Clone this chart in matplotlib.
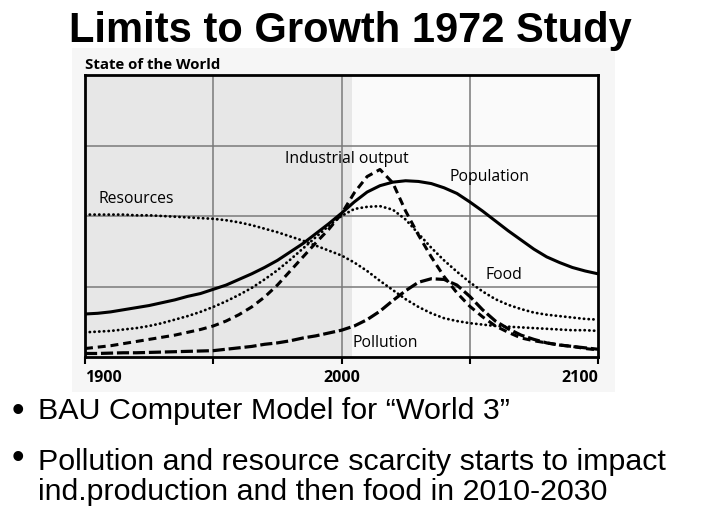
import matplotlib
matplotlib.use('Agg')
import matplotlib.pyplot as plt
from matplotlib.patches import Rectangle

years = [1900, 1905, 1910, 1915, 1920, 1925, 1930, 1935, 1940, 1945,
         1950, 1955, 1960, 1965, 1970, 1975, 1980, 1985, 1990, 1995,
         2000, 2005, 2010, 2015, 2020, 2025, 2030, 2035, 2040, 2045,
         2050, 2055, 2060, 2065, 2070, 2075, 2080, 2085, 2090, 2095, 2100]
population = [0.61, 0.62, 0.64, 0.67, 0.70, 0.73, 0.77, 0.81, 0.86, 0.90,
              0.96, 1.02, 1.10, 1.18, 1.27, 1.37, 1.49, 1.61, 1.75, 1.89,
              2.04, 2.20, 2.34, 2.43, 2.48, 2.50, 2.49, 2.46, 2.40, 2.32,
              2.20, 2.07, 1.93, 1.79, 1.66, 1.53, 1.42, 1.34, 1.27, 1.22, 1.18]
industrial = [0.12, 0.14, 0.16, 0.19, 0.22, 0.25, 0.28, 0.31, 0.35, 0.39,
              0.44, 0.51, 0.60, 0.71, 0.85, 1.02, 1.22, 1.42, 1.62, 1.81,
              2.03, 2.33, 2.56, 2.66, 2.47, 2.07, 1.73, 1.42, 1.14, 0.91,
              0.72, 0.57, 0.44, 0.35, 0.27, 0.23, 0.20, 0.17, 0.15, 0.12, 0.10]
food = [0.35, 0.36, 0.37, 0.39, 0.41, 0.44, 0.48, 0.53, 0.58, 0.64,
        0.71, 0.79, 0.88, 0.98, 1.10, 1.23, 1.38, 1.54, 1.70, 1.86,
        2.00, 2.10, 2.13, 2.14, 2.09, 1.95, 1.75, 1.55, 1.37, 1.21,
        1.06, 0.93, 0.82, 0.74, 0.68, 0.63, 0.60, 0.58, 0.56, 0.54, 0.53]
resources = [2.02, 2.02, 2.02, 2.02, 2.01, 2.01, 2.00, 1.99, 1.98, 1.97,
             1.96, 1.94, 1.91, 1.87, 1.82, 1.77, 1.71, 1.65, 1.58, 1.51,
             1.44, 1.34, 1.22, 1.08, 0.95, 0.82, 0.71, 0.62, 0.55, 0.51,
             0.48, 0.46, 0.44, 0.43, 0.42, 0.41, 0.40, 0.39, 0.38, 0.38, 0.37]
pollution = [0.05, 0.05, 0.055, 0.06, 0.06, 0.065, 0.07, 0.075, 0.08, 0.085,
             0.09, 0.11, 0.13, 0.15, 0.18, 0.20, 0.23, 0.27, 0.30, 0.34,
             0.38, 0.44, 0.53, 0.65, 0.80, 0.94, 1.06, 1.11, 1.10, 1.02,
             0.86, 0.67, 0.51, 0.40, 0.31, 0.25, 0.20, 0.17, 0.15, 0.13, 0.11]

tick_years = [1900, 1950, 2000, 2050, 2100]
tick_labels = ['1900', '', '2000', '', '2100']
shade_end = 2004

title = 'Limits to Growth 1972 Study'
bullets = ['BAU Computer Model for \u201cWorld 3\u201d',
           'Pollution and resource scarcity starts to impact\nind.production and then food in 2010-2030']

W, H = 720, 528
fig = plt.figure(figsize=(W / 100, H / 100), dpi=100)
fig.patch.set_facecolor('white')

# scanned picture background, behind the axes
fig.patches.append(Rectangle((72 / W, 1 - 392 / H), 543 / W, 344 / H,
                             transform=fig.transFigure, facecolor='#f6f6f6',
                             edgecolor='none', zorder=-10))

ax = fig.add_axes([85 / W, 1 - 357 / H, 513 / W, 282 / H])
ax.set_facecolor('#fafafa')
ax.set_xlim(1900, 2100)
ax.set_ylim(0, 4)
ax.axvspan(1900, shade_end, color='#e7e7e7', zorder=0, lw=0)

for gx in [1950, 2000, 2050]:
    ax.axvline(gx, color='#7a7a7a', lw=1.1, zorder=1)
for gy in [1, 2, 3]:
    ax.axhline(gy, color='#7a7a7a', lw=1.1, zorder=1)

ax.plot(years, population, color='black', lw=2.2, solid_capstyle='round',
        solid_joinstyle='round', zorder=3)
ax.plot(years, industrial, color='black', lw=2.2, linestyle=(0, (2.6, 1.6)), zorder=3)
ax.plot(years, food, color='black', lw=2.0, linestyle=(0, (0.1, 1.6)),
        dash_capstyle='round', zorder=3)
ax.plot(years, resources, color='black', lw=2.0, linestyle=(0, (0.1, 1.6)),
        dash_capstyle='round', zorder=3)
ax.plot(years, pollution, color='black', lw=2.3, linestyle=(0, (3.8, 1.2)), zorder=3)

for s in ax.spines.values():
    s.set_color('black')
    s.set_linewidth(2)

ax.set_yticks([])
ax.set_xticks(tick_years)
ax.set_xticklabels(tick_labels, fontfamily='Open Sans', fontweight='bold', fontsize=11.5)
ax.tick_params(axis='x', direction='out', length=5, width=1.5, pad=4)
labs = ax.get_xticklabels()
labs[0].set_ha('left')
labs[-1].set_ha('right')

lab_kw = dict(fontfamily='Open Sans', fontsize=11.3, va='baseline', ha='left', zorder=4)
ax.text(1905.1, 2.19, 'Resources', **lab_kw)
ax.text(1978.0, 2.75, 'Industrial output', **lab_kw)
ax.text(2042.3, 2.50, 'Population', **lab_kw)
ax.text(2056.0, 1.10, 'Food', **lab_kw)
ax.text(2004.1, 0.146, 'Pollution', **lab_kw)

fig.text(85 / W, 1 - 69.3 / H, 'State of the World', fontfamily='Open Sans',
         fontweight='bold', fontsize=10.8, va='baseline', ha='left')

fig.text(350 / W, 1 - 41.7 / H, title, fontfamily='Liberation Sans',
         fontweight='bold', fontsize=30, ha='center', va='baseline')

fig.text(18 / W, 1 - 421 / H, '\u2022', fontfamily='Liberation Sans', fontsize=26,
         ha='center', va='baseline')
fig.text(38 / W, 1 - 419 / H, bullets[0], fontfamily='Liberation Sans', fontsize=21.9,
         ha='left', va='baseline')
fig.text(18 / W, 1 - 468 / H, '\u2022', fontfamily='Liberation Sans', fontsize=26,
         ha='center', va='baseline')
fig.text(38 / W, 1 - 500 / H, bullets[1], fontfamily='Liberation Sans', fontsize=21.9,
         ha='left', va='baseline', linespacing=1.1)

fig.savefig('out.png', dpi=100, facecolor='white')
